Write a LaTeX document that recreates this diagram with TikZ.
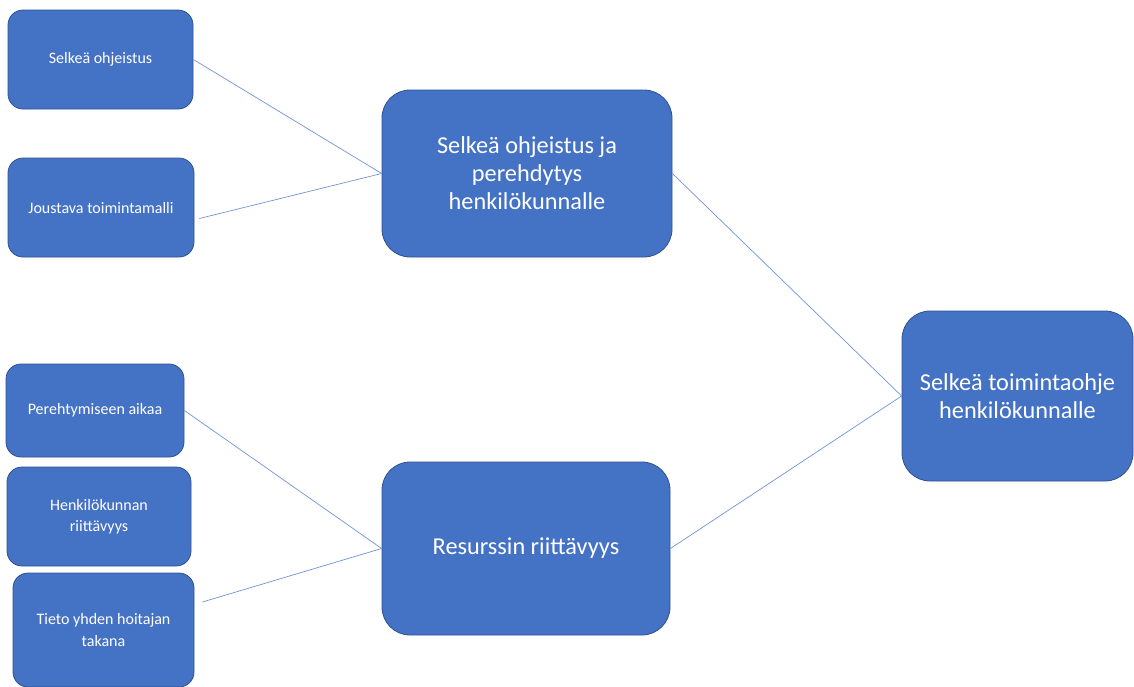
\documentclass[tikz,border=0pt]{standalone}
\usepackage{fontspec}
\setmainfont{Carlito}
\usetikzlibrary{calc}
\definecolor{boxfill}{HTML}{4472C4}
\definecolor{boxline}{HTML}{2F528F}
\definecolor{linkcol}{HTML}{6F93D6}
\begin{document}
\begin{tikzpicture}[x=1pt,y=-1pt,
  smallbox/.style={draw=boxline,line width=0.8pt,fill=boxfill,rounded corners=15pt,
    text=white,align=center,inner sep=2pt,font=\fontsize{16}{21.5}\selectfont},
  bigbox/.style={draw=boxline,line width=0.8pt,fill=boxfill,rounded corners=28pt,
    text=white,align=center,inner sep=2pt,font=\fontsize{24.3}{28}\selectfont},
  link/.style={draw=linkcol,line width=0.7pt}]
\useasboundingbox (0,0) rectangle (1134,686);
\begin{scope}
\clip (0,0) rectangle (1134,686);
% left column
\node[smallbox,minimum width=185pt,minimum height=99pt] (a) at (100.5,59.5) {Selkeä ohjeistus};
\node[smallbox,minimum width=186pt,minimum height=99pt] (b) at (101,207.5) {Joustava toimintamalli};
\node[smallbox,minimum width=178pt,minimum height=93pt] (e) at (95,410.5) {Perehtymiseen aikaa};
\node[smallbox,minimum width=184pt,minimum height=99pt] (f) at (99,516.5) {Henkilökunnan\\riittävyys};
\node[smallbox,minimum width=181pt,minimum height=114pt] (g) at (103.5,630) {Tieto yhden hoitajan\\takana};
% middle column
\node[bigbox,minimum width=290pt,minimum height=167pt] (c) at (527,173.5) {Selkeä ohjeistus ja\\perehdytys\\henkilökunnalle};
\node[bigbox,minimum width=288pt,minimum height=173pt] (h) at (526,548.5) {Resurssin riittävyys};
% right
\node[bigbox,minimum width=231pt,minimum height=170pt] (d) at (1017.5,396) {Selkeä toimintaohje\\henkilökunnalle};
% connectors
\draw[link] (a.east) -- (c.west);
\draw[link] ($(b.east)+(5,11)$) -- (c.west);
\draw[link] (c.east) -- (d.west);
\draw[link] (h.east) -- (d.west);
\draw[link] (e.east) -- (h.west);
\draw[link] ($(g.east)+(8,-28)$) -- (h.west);
\end{scope}
\end{tikzpicture}
\end{document}
